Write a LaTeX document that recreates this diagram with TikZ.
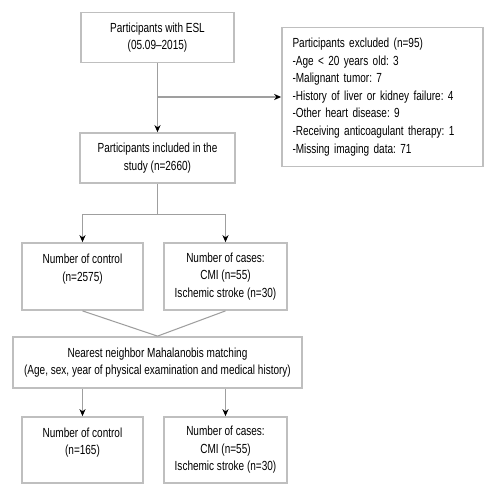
\documentclass[tikz,border=0pt]{standalone}
\usepackage{fontspec}
\setmainfont[FakeStretch=0.76]{Liberation Sans}
\usepackage{tikz}
\usetikzlibrary{arrows.meta,positioning,calc}
\frenchspacing

\begin{document}
\begin{tikzpicture}[
    box/.style={draw=gray!50, line width=1pt, fill=white, align=center, font=\fontsize{7.5}{10}\selectfont, inner sep=2pt},
    line/.style={draw=gray!75, line width=0.6pt},
    arrow/.style={line, -{Stealth[black, length=4pt, width=3.5pt]}}
]
    \useasboundingbox (0,0) rectangle (10,-10);

    \node[box, minimum width=3.06cm, minimum height=1.0cm] (all) at (3.15,-0.75) {Participants with ESL\\(05.09--2015)};
    \node[box, minimum width=4.02cm, minimum height=2.78cm, align=left, text width=3.6cm] (excl) at (7.65,-1.94)
        {Participants excluded (n=95)\\-Age < 20 years old: 3\\-Malignant tumor: 7\\-History of liver or kidney failure: 4\\-Other heart disease: 9\\-Receiving anticoagulant therapy: 1\\-Missing imaging data: 71};
    \node[box, minimum width=3.1cm, minimum height=1.0cm] (incl) at (3.15,-3.16) {Participants included in the\\study (n=2660)};

    % before matching
    \node[box, minimum width=2.42cm, minimum height=1.34cm] (ctl1) at (1.65,-5.53) {Number of control\\(n=2575)\\~};
    \node[box, minimum width=2.46cm, minimum height=1.34cm] (case1) at (4.51,-5.53) {Number of cases:\\CMI (n=55)\\Ischemic stroke (n=30)};

    \node[box, minimum width=5.78cm, minimum height=1.02cm] (match) at (3.15,-7.25) {Nearest neighbor Mahalanobis matching\\(Age, sex, year of physical examination and medical history)};

    % after matching
    \node[box, minimum width=2.42cm, minimum height=1.32cm] (ctl2) at (1.65,-9.0) {Number of control\\(n=165)\\~};
    \node[box, minimum width=2.46cm, minimum height=1.32cm] (case2) at (4.51,-9.0) {Number of cases:\\CMI (n=55)\\Ischemic stroke (n=30)};

    \draw[arrow] (all.south) -- (incl.north);
    \draw[arrow] (all.south |- excl.west) -- (excl.west);

    \draw[line] (incl.south) -- ++(0,-0.62) coordinate (split);
    \draw[arrow] (split) -| (ctl1.north);
    \draw[arrow] (split) -| (case1.north);

    \draw[line] (ctl1.south) -- (match.north);
    \draw[line] (case1.south) -- (match.north);

    \draw[arrow] (match.south -| ctl2.north) -- (ctl2.north);
    \draw[arrow] (match.south -| case2.north) -- (case2.north);
\end{tikzpicture}
\end{document}
